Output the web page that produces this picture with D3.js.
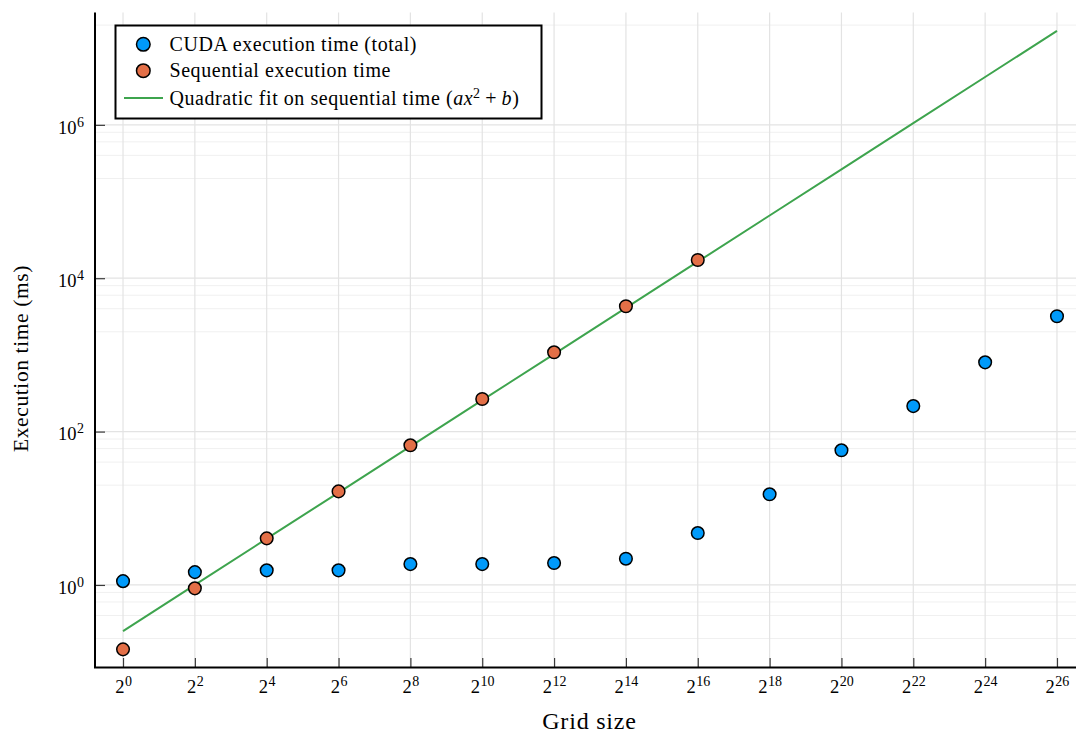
<!DOCTYPE html>
<html><head><meta charset="utf-8">
<script src="https://cdn.jsdelivr.net/npm/d3@7"></script>
<style>body{margin:0;background:#fff} svg{display:block}</style>
</head><body><svg id="chart" width="1076" height="733"></svg>
<script>
// ---- data ----
const cudaExponents = [0, 2, 4, 6, 8, 10, 12, 14, 16, 18, 20, 22, 24, 26];
const cudaTime = [1.12, 1.47, 1.55, 1.55, 1.87, 1.87, 1.93, 2.20, 4.75, 15.2, 57.0, 215, 800, 3190];
const seqExponents = [0, 2, 4, 6, 8, 10, 12, 14, 16];
const seqTime = [0.1445, 0.903, 4.05, 16.6, 66.2, 266, 1081, 4303, 17290];
const fitExponents = [0, 2, 4, 6, 8, 10, 12, 14, 16, 18, 20, 22, 24, 26];
const fitTime = [0.2505, 1.002, 4.01, 16.03, 64.1, 256.5, 1026, 4104, 16420, 65670, 262700, 1051000, 4203000, 16810000];
const xTickExponents = [0, 2, 4, 6, 8, 10, 12, 14, 16, 18, 20, 22, 24, 26];
const yTickExponents = [0, 2, 4, 6];
const yMinorTicks = [0.2, 0.4, 0.6, 0.8, 20, 40, 60, 80, 2000, 4000, 6000, 8000, 2e5, 4e5, 6e5, 8e5, 2e7, 4e7, 6e7, 8e7];
const legendLabels = ["CUDA execution time (total)", "Sequential execution time"];
const xLabel = "Grid size";
const yLabel = "Execution time (ms)";
const colors = {cuda: "#009AFA", seq: "#E36F47", fit: "#3EA44E"};

// ---- layout ----
const svg = d3.select("#chart");
const FONT = "'Liberation Serif','Times New Roman',serif";
const pL = 95, pR = 1085, pT = 12.5, pB = 667;
const x = d3.scaleLog().base(2).domain([Math.pow(2, -0.78), Math.pow(2, 26.78)]).range([pL, pR]);
const y = d3.scaleLog().domain([Math.pow(10, -1.07), Math.pow(10, 7.465)]).range([pB, pT]);

const g = svg.append("g");

// grid: minor horizontal
g.append("g").selectAll("line").data(yMinorTicks.filter(v => y(v) >= pT && y(v) <= pB)).join("line")
  .attr("x1", pL).attr("x2", pR).attr("y1", d => y(d)).attr("y2", d => y(d))
  .attr("stroke", "#f0f0f0").attr("stroke-width", 1);
// major horizontal
g.append("g").selectAll("line").data(yTickExponents).join("line")
  .attr("x1", pL).attr("x2", pR).attr("y1", d => y(Math.pow(10, d))).attr("y2", d => y(Math.pow(10, d)))
  .attr("stroke", "#e3e3e3").attr("stroke-width", 1.2);
// major vertical
g.append("g").selectAll("line").data(xTickExponents).join("line")
  .attr("y1", pT).attr("y2", pB).attr("x1", d => x(Math.pow(2, d))).attr("x2", d => x(Math.pow(2, d)))
  .attr("stroke", "#e3e3e3").attr("stroke-width", 1.2);

// axes via d3 axis generators (ticks inside)
const xAxis = d3.axisBottom(x).tickValues(xTickExponents.map(e => Math.pow(2, e))).tickSize(-9).tickFormat("");
const yAxis = d3.axisLeft(y).tickValues(yTickExponents.map(e => Math.pow(10, e))).tickSize(-10).tickFormat("");
const gx = svg.append("g").attr("transform", `translate(0,${pB})`).call(xAxis);
const gy = svg.append("g").attr("transform", `translate(${pL},0)`).call(yAxis);
[gx, gy].forEach(a => { a.select(".domain").remove(); a.selectAll(".tick line").attr("stroke", "#3a3a3a").attr("stroke-width", 1.2); });

// tick labels
gx.selectAll(".tick").each(function(d, i) {
  const t = d3.select(this).append("text").attr("y", 26).attr("text-anchor", "middle")
    .attr("fill", "#000").style("font-family", FONT).style("font-size", "18.5px");
  t.append("tspan").text("2");
  t.append("tspan").attr("dy", -7).attr("dx", 0.5).style("font-size", "14px").text(xTickExponents[i]);
});
gy.selectAll(".tick").each(function(d, i) {
  const t = d3.select(this).append("text").attr("x", -11).attr("y", 8.3).attr("text-anchor", "end")
    .attr("fill", "#000").style("font-family", FONT).style("font-size", "18.5px");
  t.append("tspan").text("10");
  t.append("tspan").attr("dy", -7).attr("dx", 0.5).style("font-size", "14px").text(yTickExponents[i]);
});

// fit line
svg.append("clipPath").attr("id", "clip").append("rect")
  .attr("x", pL).attr("y", pT).attr("width", pR - pL).attr("height", pB - pT);
const line = d3.line().x((d, i) => x(Math.pow(2, fitExponents[i]))).y(d => y(d));
svg.append("path").datum(fitTime).attr("d", line).attr("fill", "none")
  .attr("stroke", colors.fit).attr("stroke-width", 2).attr("clip-path", "url(#clip)");

// markers
svg.append("g").selectAll("circle").data(cudaTime).join("circle")
  .attr("cx", (d, i) => x(Math.pow(2, cudaExponents[i]))).attr("cy", d => y(d)).attr("r", 6.3)
  .attr("fill", colors.cuda).attr("stroke", "#000").attr("stroke-width", 1.5);
svg.append("g").selectAll("circle").data(seqTime).join("circle")
  .attr("cx", (d, i) => x(Math.pow(2, seqExponents[i]))).attr("cy", d => y(d)).attr("r", 6.3)
  .attr("fill", colors.seq).attr("stroke", "#000").attr("stroke-width", 1.5);

// spines
svg.append("line").attr("x1", pL).attr("x2", pL).attr("y1", pT).attr("y2", pB + 1)
  .attr("stroke", "#000").attr("stroke-width", 2);
svg.append("line").attr("x1", pL - 1).attr("x2", 1076).attr("y1", pB + 0.5).attr("y2", pB + 0.5)
  .attr("stroke", "#000").attr("stroke-width", 2);

// axis labels
svg.append("text").attr("x", 589.5).attr("y", 729).attr("text-anchor", "middle")
  .style("font-family", FONT).style("font-size", "24px").style("letter-spacing", "0.8px").text(xLabel);
svg.append("text").attr("transform", "translate(28,358.5) rotate(-90)").attr("text-anchor", "middle")
  .style("font-family", FONT).style("font-size", "21.5px").style("letter-spacing", "0.6px").text(yLabel);

// legend
const lg = svg.append("g");
lg.append("rect").attr("x", 115.5).attr("y", 25.5).attr("width", 426).attr("height", 93)
  .attr("fill", "#fff").attr("stroke", "#000").attr("stroke-width", 2);
const rows = [44.3, 70.7, 98];
lg.append("circle").attr("cx", 143.3).attr("cy", rows[0]).attr("r", 6.8).attr("fill", colors.cuda).attr("stroke", "#000").attr("stroke-width", 1.5);
lg.append("circle").attr("cx", 143.3).attr("cy", rows[1]).attr("r", 6.8).attr("fill", colors.seq).attr("stroke", "#000").attr("stroke-width", 1.5);
lg.append("line").attr("x1", 124).attr("x2", 163).attr("y1", rows[2]).attr("y2", rows[2]).attr("stroke", colors.fit).attr("stroke-width", 2);
const lstyle = t => t.style("font-family", FONT).style("font-size", "20px").style("letter-spacing", "0.55px");
legendLabels.forEach((s, i) => lstyle(lg.append("text").attr("x", 169.5).attr("y", rows[i] + 6.6)).text(s));
const t3 = lstyle(lg.append("text").attr("x", 169.5).attr("y", rows[2] + 6.6));
t3.append("tspan").text("Quadratic fit on sequential time (");
t3.append("tspan").style("font-style", "italic").text("ax");
t3.append("tspan").attr("dy", -7).style("font-size", "14px").text("2");
t3.append("tspan").attr("dy", 7).text("\u2009+\u2009");
t3.append("tspan").style("font-style", "italic").text("b");
t3.append("tspan").text(")");
</script></body></html>
